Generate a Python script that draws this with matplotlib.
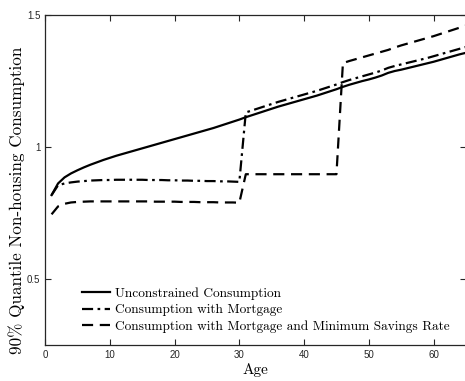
import numpy as np
import matplotlib
matplotlib.use('Agg')
import matplotlib.pyplot as plt

ages = np.arange(1, 66)

unconstrained = [
    0.818, 0.862, 0.885, 0.900, 0.912, 0.923, 0.933, 0.942, 0.951, 0.959,
    0.967, 0.974, 0.981, 0.988, 0.995, 1.002, 1.009, 1.016, 1.023, 1.030,
    1.037, 1.044, 1.051, 1.058, 1.065, 1.072, 1.080, 1.088, 1.096, 1.104,
    1.113, 1.121, 1.129, 1.137, 1.145, 1.153, 1.160, 1.167, 1.174, 1.181,
    1.188, 1.195, 1.203, 1.211, 1.219, 1.228, 1.236, 1.243, 1.250, 1.256,
    1.263, 1.271, 1.281, 1.288, 1.293, 1.299, 1.305, 1.311, 1.317, 1.323,
    1.330, 1.337, 1.344, 1.351, 1.357,
]

mortgage = [
    0.818, 0.855, 0.862, 0.866, 0.869, 0.871, 0.873, 0.874, 0.875, 0.875,
    0.876, 0.876, 0.876, 0.876, 0.876, 0.875, 0.875, 0.875, 0.874, 0.874,
    0.873, 0.873, 0.872, 0.872, 0.871, 0.871, 0.870, 0.870, 0.869, 0.868,
    1.131, 1.139, 1.147, 1.155, 1.163, 1.171, 1.178, 1.185, 1.192, 1.199,
    1.206, 1.213, 1.221, 1.229, 1.237, 1.246, 1.254, 1.261, 1.268, 1.275,
    1.282, 1.290, 1.300, 1.307, 1.313, 1.319, 1.325, 1.331, 1.337, 1.344,
    1.351, 1.358, 1.365, 1.372, 1.379,
]

min_savings = [
    0.745, 0.775, 0.785, 0.790, 0.792, 0.793, 0.794, 0.794, 0.794, 0.794,
    0.794, 0.794, 0.794, 0.794, 0.794, 0.794, 0.793, 0.793, 0.793, 0.793,
    0.792, 0.792, 0.792, 0.791, 0.791, 0.791, 0.790, 0.790, 0.790, 0.789,
    0.897, 0.897, 0.897, 0.897, 0.897, 0.897, 0.897, 0.897, 0.897, 0.897,
    0.897, 0.897, 0.897, 0.897, 0.897, 1.318, 1.326, 1.333, 1.340, 1.347,
    1.354, 1.361, 1.368, 1.377, 1.385, 1.392, 1.399, 1.406, 1.413, 1.420,
    1.428, 1.436, 1.444, 1.452, 1.460,
]

labels = [
    'Unconstrained Consumption',
    'Consumption with Mortgage',
    'Consumption with Mortgage and Minimum Savings Rate',
]

serif = ['cmr10', 'DejaVu Serif']

fig = plt.figure(figsize=(4.65, 3.81), dpi=100)
ax = fig.add_axes([0.097, 0.0945, 0.905, 0.866])

ax.plot(ages, unconstrained, color='black', lw=1.6, ls='-', label=labels[0])
ax.plot(ages, mortgage, color='black', lw=1.6, ls=(0, (5, 2, 1.2, 2)), label=labels[1])
ax.plot(ages, min_savings, color='black', lw=1.6, ls=(0, (5, 3)), label=labels[2])

ax.set_xlim(0, 65)
ax.set_ylim(0.25, 1.5)
ax.set_xticks([0, 10, 20, 30, 40, 50, 60])
ax.set_yticks([0.5, 1, 1.5])
ax.set_yticklabels(['0.5', '1', '1.5'])
ax.tick_params(direction='in', top=True, right=True, length=4, width=0.8,
               labelsize=7, colors='#262626')
for lab in ax.get_xticklabels() + ax.get_yticklabels():
    lab.set_family(['Liberation Sans', 'DejaVu Sans'])
for sp in ax.spines.values():
    sp.set_linewidth(0.9)
    sp.set_color('#262626')

ax.set_xlabel('Age', family=serif, fontsize=11, labelpad=2)
ax.set_ylabel('90% Quantile Non-housing Consumption', family=serif, fontsize=12.3)
ax.yaxis.set_label_coords(-0.047, 0.44)

leg = ax.legend(loc='lower left', bbox_to_anchor=(0.06, 0.0), frameon=False,
                prop={'family': serif, 'size': 9.6}, handlelength=2.05,
                handletextpad=0.37, labelspacing=0.3)

fig.savefig('out.png', dpi=100)
